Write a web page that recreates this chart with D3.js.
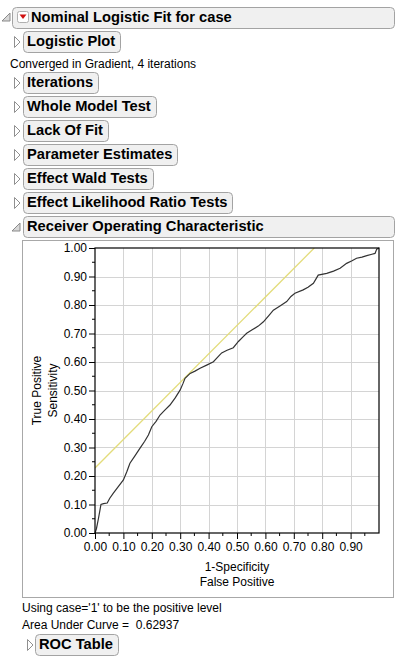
<!DOCTYPE html>
<html><head><meta charset="utf-8">
<script src="https://cdn.jsdelivr.net/npm/d3@7"></script>
<style>
body{margin:0;background:#fff;}
svg{display:block;font-family:"Liberation Sans",Arial,sans-serif;}
</style></head>
<body><svg id="c" width="399" height="657"></svg>
<script>
// ---- data ----
const fpr = [0,0.005,0.012,0.021,0.030,0.043,0.052,0.064,0.080,0.100,0.112,0.123,0.140,0.158,0.175,0.188,0.200,0.215,0.229,0.245,0.264,0.283,0.300,0.310,0.317,0.335,0.352,0.370,0.395,0.417,0.432,0.446,0.465,0.487,0.505,0.522,0.534,0.552,0.575,0.593,0.612,0.628,0.650,0.675,0.690,0.704,0.733,0.750,0.769,0.786,0.816,0.840,0.863,0.886,0.905,0.921,0.940,0.957,0.975,0.986,0.992,1.0];
const tpr = [0,0.015,0.050,0.100,0.103,0.105,0.122,0.139,0.160,0.186,0.215,0.245,0.270,0.297,0.322,0.344,0.373,0.392,0.414,0.430,0.449,0.475,0.502,0.525,0.543,0.560,0.568,0.578,0.590,0.601,0.617,0.632,0.641,0.650,0.672,0.689,0.701,0.712,0.726,0.741,0.763,0.782,0.796,0.812,0.830,0.841,0.853,0.862,0.876,0.905,0.911,0.919,0.929,0.946,0.955,0.964,0.968,0.973,0.978,0.981,0.996,1.0];
const tangentIntercept = 0.228; // slope-1 tangent line
const xTicks = [0,0.1,0.2,0.3,0.4,0.5,0.6,0.7,0.8,0.9];
const yTicks = [0,0.1,0.2,0.3,0.4,0.5,0.6,0.7,0.8,0.9,1.0];
const collapsedSections = ["Whole Model Test","Lack Of Fit","Parameter Estimates","Effect Wald Tests","Effect Likelihood Ratio Tests"];
const aucValue = "0.62937";

const svg = d3.select("#c");

function box(x,y,w,h){
  svg.append("rect").attr("x",x+0.5).attr("y",y+0.5).attr("width",w).attr("height",h)
    .attr("rx",4).attr("fill","#f0f0f0").attr("stroke","#a3a3a3");
}
function title(x,y,text,fullRight,textOff){
  const off = textOff || 4;
  const t = svg.append("text").attr("x",x+off).attr("y",y+15).attr("font-size",14.7).attr("font-weight","bold").attr("fill","#000").text(text);
  const w = t.node().getComputedTextLength();
  const bw = fullRight ? fullRight - x : Math.round(w + off + 5);
  box(x,y,bw,21);
  t.raise();
}
function triRight(x,y){
  svg.append("path").attr("d",`M${x},${y-5.5}L${x+5.5},${y}L${x},${y+5.5}Z`).attr("fill","#fff").attr("stroke","#909090");
}
function triOpen(x,y){
  svg.append("path").attr("d",`M${x},${y+4}L${x+8},${y+4}L${x+8},${y-4}Z`).attr("fill","#d8d8d8").attr("stroke","#8a8a8a");
}

// top header
triOpen(2,17);
title(12,7,"Nominal Logistic Fit for case",394,19);
// red menu icon
svg.append("rect").attr("x",17.5).attr("y",11.5).attr("width",11).attr("height",11).attr("rx",2).attr("fill","#fff").attr("stroke","#b0b0b0");
svg.append("path").attr("d","M19.5,14.5L26.5,14.5L23,19Z").attr("fill","#d01010");

triRight(14.5,42);
title(23,31,"Logistic Plot");
svg.append("text").attr("x",10).attr("y",68).attr("font-size",12).text("Converged in Gradient, 4 iterations");
triRight(14.5,83);
title(23,72,"Iterations");
collapsedSections.forEach((s,i)=>{
  const y = 96 + i*24;
  triRight(14.5,y+11);
  title(23,y,s);
});
triOpen(12,227);
title(23,216,"Receiver Operating Characteristic",394);

// ROC frame
svg.append("rect").attr("x",22.5).attr("y",240.5).attr("width",371).attr("height",357).attr("fill","#fff").attr("stroke","#a8a8a8");

const x = d3.scaleLinear().domain([0,1]).range([95,379]);
const y = d3.scaleLinear().domain([0,1]).range([533,248]);

// grid
svg.append("g").selectAll("line.vx").data(xTicks.slice(1)).join("line")
  .attr("x1",d=>Math.round(x(d))+0.5).attr("x2",d=>Math.round(x(d))+0.5).attr("y1",y(1)).attr("y2",y(0)).attr("stroke","#d4d4d4");
svg.append("g").selectAll("line.hy").data(yTicks.slice(1,-1)).join("line")
  .attr("y1",d=>Math.round(y(d))+0.5).attr("y2",d=>Math.round(y(d))+0.5).attr("x1",x(0)).attr("x2",x(1)).attr("stroke","#d4d4d4");

// clip
svg.append("clipPath").attr("id","pc").append("rect").attr("x",x(0)).attr("y",y(1)).attr("width",x(1)-x(0)).attr("height",y(0)-y(1));

// tangent line
const tx2 = 1 - tangentIntercept;
svg.append("line").attr("clip-path","url(#pc)")
  .attr("x1",x(0)).attr("y1",y(tangentIntercept)).attr("x2",x(tx2)).attr("y2",y(1))
  .attr("stroke","#e3dc7a").attr("stroke-width",1.3);

// ROC curve
const pts = fpr.map((v,i)=>[v,tpr[i]]);
svg.append("path").datum(pts)
  .attr("d",d3.line().x(d=>x(d[0])).y(d=>y(d[1])))
  .attr("fill","none").attr("stroke","#333").attr("stroke-width",1.2);

// frame of plot
svg.append("rect").attr("x",x(0)).attr("y",y(1)).attr("width",x(1)-x(0)).attr("height",y(0)-y(1)).attr("fill","none").attr("stroke","#000").attr("stroke-width",1.2);

// axes
const minorX = d3.range(0,20).map(i=>i*0.05);
const ax = d3.axisBottom(x).tickValues(xTicks).tickFormat(d3.format(".2f")).tickSize(6).tickPadding(3);
const gx = svg.append("g").attr("transform",`translate(0,${y(0)})`).call(ax);
gx.select(".domain").remove();
gx.selectAll("text").attr("font-size",12).attr("font-family","Liberation Sans, Arial").attr("fill","#000");
svg.append("g").attr("transform",`translate(0,${y(0)})`).selectAll("line").data(minorX.filter((d,i)=>i%2)).join("line")
  .attr("x1",d=>x(d)).attr("x2",d=>x(d)).attr("y1",0).attr("y2",3).attr("stroke","#000");

const ay = d3.axisLeft(y).tickValues(yTicks).tickFormat(d3.format(".2f")).tickSize(6).tickPadding(2);
const gy = svg.append("g").attr("transform",`translate(${x(0)},0)`).call(ay);
gy.select(".domain").remove();
gy.selectAll("text").attr("font-size",12).attr("font-family","Liberation Sans, Arial").attr("fill","#000");
const minorY = d3.range(0,10).map(i=>i*0.1+0.05);
svg.append("g").attr("transform",`translate(${x(0)},0)`).selectAll("line").data(minorY).join("line")
  .attr("y1",d=>y(d)).attr("y2",d=>y(d)).attr("x1",0).attr("x2",-3).attr("stroke","#000");

// axis titles
const cx = (x(0)+x(1))/2;
svg.append("text").attr("x",cx).attr("y",571).attr("text-anchor","middle").attr("font-size",12).text("1-Specificity");
svg.append("text").attr("x",cx).attr("y",586).attr("text-anchor","middle").attr("font-size",12).text("False Positive");
const cy = (y(0)+y(1))/2;
svg.append("text").attr("transform",`translate(41,${cy}) rotate(-90)`).attr("text-anchor","middle").attr("font-size",12).text("True Positive");
svg.append("text").attr("transform",`translate(57,${cy}) rotate(-90)`).attr("text-anchor","middle").attr("font-size",12).text("Sensitivity");

// notes
svg.append("text").attr("x",22).attr("y",612).attr("font-size",12).text("Using case='1' to be the positive level");
svg.append("text").attr("x",22).attr("y",629).attr("font-size",12).attr("xml:space","preserve").text("Area Under Curve =  " + aucValue);
triRight(27.5,645);
title(35,634,"ROC Table");
</script></body></html>
